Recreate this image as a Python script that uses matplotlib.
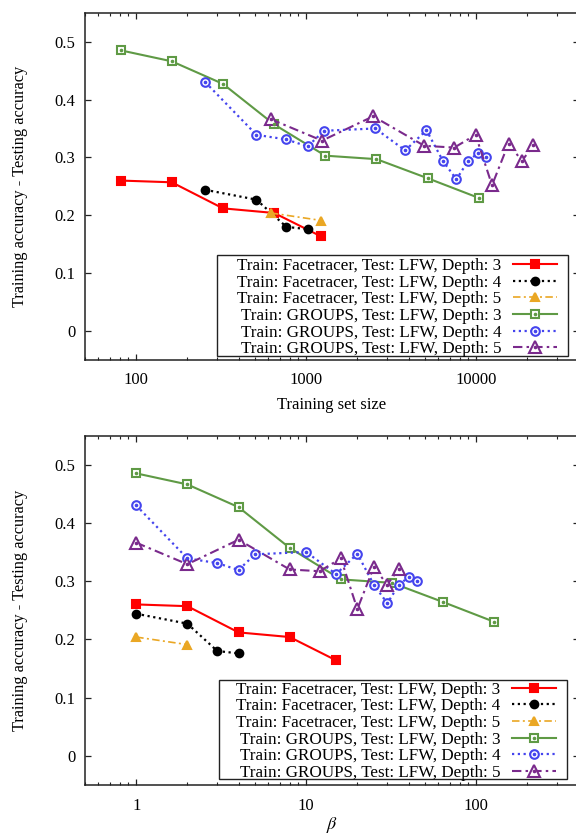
import matplotlib
matplotlib.use("Agg")
import matplotlib.pyplot as plt
from matplotlib.ticker import FixedLocator, LogLocator, NullFormatter, FuncFormatter
from matplotlib.legend_handler import HandlerTuple
from matplotlib.patches import Rectangle

plt.rcParams['font.family'] = ['Liberation Serif', 'DejaVu Serif']
plt.rcParams['mathtext.fontset'] = 'stix'

# ---------------- data ----------------
labels = [
    "Train: Facetracer, Test: LFW, Depth: 3",
    "Train: Facetracer, Test: LFW, Depth: 4",
    "Train: Facetracer, Test: LFW, Depth: 5",
    "Train: GROUPS, Test: LFW, Depth: 3",
    "Train: GROUPS, Test: LFW, Depth: 4",
    "Train: GROUPS, Test: LFW, Depth: 5",
]

# beta values per series
beta_ft3 = [1, 2, 4, 8, 15]
beta_ft4 = [1, 2, 3, 4]
beta_ft5 = [1, 2]
beta_gr3 = [1, 2, 4, 8, 16, 32, 64, 128]
beta_gr4 = [1, 2, 3, 4, 5, 10, 15, 20, 25, 30, 35, 40, 45]
beta_gr5 = [1, 2, 4, 8, 12, 16, 20, 25, 30, 35]

# training set sizes per series
size_ft3 = [81, 162, 324, 648, 1215]
size_ft4 = [255, 510, 765, 1020]
size_ft5 = [620, 1230]
size_gr3 = [81, 162, 324, 648, 1296, 2592, 5184, 10368]
size_gr4 = [255, 510, 765, 1020, 1275, 2550, 3825, 5100, 6375, 7650, 8925, 10200, 11475]
size_gr5 = [620, 1240, 2480, 4960, 7440, 9920, 12400, 15500, 18600, 21700]

# training accuracy - testing accuracy
gap_ft3 = [0.260, 0.257, 0.212, 0.204, 0.164]
gap_ft4 = [0.244, 0.227, 0.180, 0.176]
gap_ft5 = [0.204, 0.191]
gap_gr3 = [0.485, 0.466, 0.427, 0.357, 0.303, 0.297, 0.264, 0.230]
gap_gr4 = [0.430, 0.339, 0.331, 0.319, 0.346, 0.350, 0.312, 0.347, 0.294, 0.262, 0.293, 0.307, 0.300]
gap_gr5 = [0.366, 0.329, 0.371, 0.320, 0.317, 0.339, 0.252, 0.324, 0.294, 0.321]

top_xticks = [100, 1000, 10000]
bot_xticks = [1, 10, 100]
yticks = [0, 0.1, 0.2, 0.3, 0.4, 0.5]

# ---------------- styles ----------------
RED = '#ff0000'
BLACK = '#000000'
ORANGE = '#eaa724'
GREEN = '#5f9a45'
BLUE = '#4444ee'
PURPLE = '#7a2a8c'

dotted = (0, (1.0, 1.6))
dashdot = (0, (4.5, 2.0, 1.2, 2.0))

styles = [
    dict(color=RED, ls='-', lw=1.5, marker='s', ms=5.5, mfc=RED, mec=RED, center=False),
    dict(color=BLACK, ls=dotted, lw=1.6, marker='o', ms=5.5, mfc=BLACK, mec=BLACK, center=False),
    dict(color=ORANGE, ls=dashdot, lw=1.2, marker='^', ms=6, mfc=ORANGE, mec=ORANGE, center=False),
    dict(color=GREEN, ls='-', lw=1.5, marker='s', ms=6.2, mfc='white', mec=GREEN, center=True),
    dict(color=BLUE, ls=dotted, lw=1.6, marker='o', ms=6.2, mfc='white', mec=BLUE, center=True),
    dict(color=PURPLE, ls=dashdot, lw=1.5, marker='^', ms=8, mfc='white', mec=PURPLE, center=True),
]

W, H = 576, 836
fig = plt.figure(figsize=(W / 100, H / 100), dpi=100)

def px_axes(left, top, right, bottom):
    return fig.add_axes([left / W, 1 - bottom / H, (right - left) / W, (bottom - top) / H])

ax_top = px_axes(85, 12.7, 578.5, 360)
ax_bot = px_axes(85, 435.5, 578.5, 785)

def draw(ax, xs_list, ys_list, xlim, xticks, xlabel, legend_anchor, frame_box):
    handles = []
    for xs, ys, st in zip(xs_list, ys_list, styles):
        ln, = ax.plot(xs, ys, color=st['color'], ls=st['ls'], lw=st['lw'],
                      marker=st['marker'], ms=st['ms'], mfc=st['mfc'], mec=st['mec'],
                      mew=1.5, zorder=3)
        if st['center']:
            dot, = ax.plot(xs, ys, ls='none', marker='o', ms=1.6, color=st['color'],
                           mec=st['color'], zorder=4)
            handles.append((ln, dot))
        else:
            handles.append(ln)
    ax.set_xscale('log')
    ax.set_xlim(*xlim)
    ax.set_ylim(-0.05, 0.55)
    ax.xaxis.set_major_locator(FixedLocator(xticks))
    ax.xaxis.set_major_formatter(FuncFormatter(lambda v, p: '%g' % v))
    ax.xaxis.set_minor_locator(LogLocator(base=10, subs=range(2, 10), numticks=20))
    ax.xaxis.set_minor_formatter(NullFormatter())
    ax.yaxis.set_major_locator(FixedLocator(yticks))
    ax.yaxis.set_major_formatter(FuncFormatter(lambda v, p: '%g' % v))
    ax.tick_params(which='both', direction='in', top=True, right=True, labelsize=12,
                   color='#222222')
    ax.tick_params(which='major', length=4.5, width=0.9, pad=7)
    ax.tick_params(which='minor', length=2.5, width=0.8)
    ax.tick_params(axis='x', which='major', pad=9)
    for s in ax.spines.values():
        s.set_linewidth(1.1)
        s.set_color('#222222')
    ax.set_ylabel('Training accuracy - Testing accuracy', fontsize=11.8, labelpad=19)
    if xlabel.startswith('$'):
        ax.set_xlabel(xlabel, fontsize=13, labelpad=1)
    else:
        ax.set_xlabel(xlabel, fontsize=12, labelpad=6)
    # legend frame (gnuplot-style key box, wider on the left)
    x0, y0, x1, y1 = frame_box
    ax.add_patch(Rectangle((x0, y0), x1 - x0, y1 - y0, transform=ax.transAxes,
                           facecolor='white', edgecolor='#222222', lw=1.0,
                           zorder=4.5, clip_on=False))
    leg = ax.legend(handles, labels, loc='lower right', bbox_to_anchor=legend_anchor,
                    bbox_transform=ax.transAxes, markerfirst=False, fontsize=12.3,
                    frameon=False, borderaxespad=0, labelspacing=0.04,
                    handlelength=2.6, handletextpad=0.65, borderpad=0.15,
                    handler_map={tuple: HandlerTuple(ndivide=1, pad=0)})
    leg.set_zorder(5)
    return leg

draw(ax_top, [size_ft3, size_ft4, size_ft5, size_gr3, size_gr4, size_gr5],
     [gap_ft3, gap_ft4, gap_ft5, gap_gr3, gap_gr4, gap_gr5],
     (50, 40000), top_xticks, 'Training set size', (0.9615, 0.0005),
     (0.2675, 0.0115, 0.9787, 0.3023))
draw(ax_bot, [beta_ft3, beta_ft4, beta_ft5, beta_gr3, beta_gr4, beta_gr5],
     [gap_ft3, gap_ft4, gap_ft5, gap_gr3, gap_gr4, gap_gr5],
     (0.5, 400), bot_xticks, r'$\beta$', (0.9595, 0.004),
     (0.2715, 0.0172, 0.9767, 0.3004))

fig.savefig('out.png', dpi=100)
